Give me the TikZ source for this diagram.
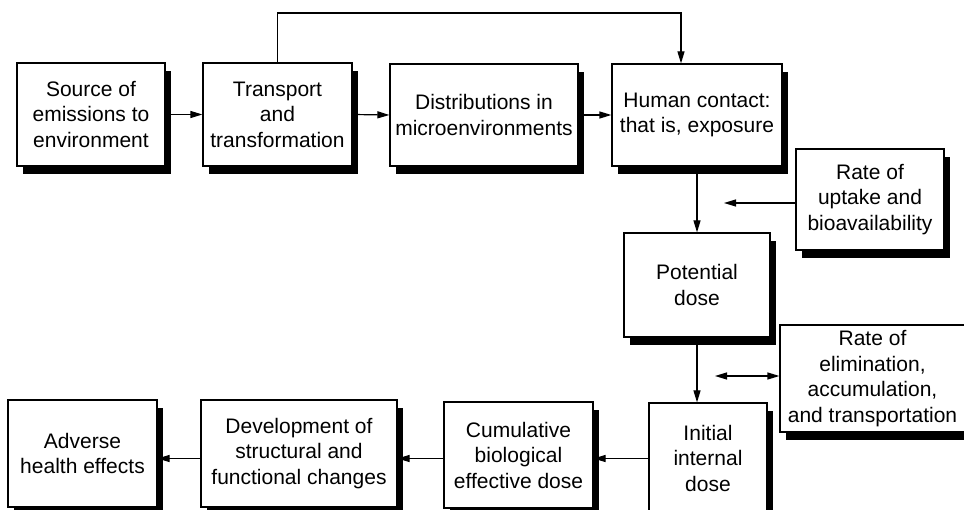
\documentclass[tikz,border=0pt]{standalone}
\usepackage{fontspec}
\setmainfont{Liberation Sans}
\usetikzlibrary{arrows.meta,shadows}
\begin{document}
\begin{tikzpicture}[x=1pt,y=-1pt,
  box/.style={draw=black, line width=1.2pt, fill=white, inner sep=0pt, align=center,
    font=\fontsize{21}{25.5}\selectfont,
    drop shadow={shadow xshift=5.5pt, shadow yshift=-8pt, fill=black, opacity=1}},
  link/.style={line width=1.2pt},
  tip/.style={Triangle[length=12pt,width=7pt]},
  arr/.style={link, -{Triangle[length=12pt,width=7pt]}},
  arrboth/.style={link, {Triangle[length=12pt,width=7pt]}-{Triangle[length=12pt,width=7pt]}}]
\useasboundingbox (0,0) rectangle (964,510);

% upper row: from source to exposure
\node[box, minimum width=148pt, minimum height=103pt] (src) at (91,114.5) {Source of\\emissions to\\environment};
\node[box, minimum width=149pt, minimum height=103pt] (trans) at (277.5,114.5) {Transport\\and\\transformation};
\node[box, minimum width=188pt, minimum height=102pt] (dist) at (484,115) {Distributions in\\microenvironments};
\node[box, minimum width=170pt, minimum height=102pt] (human) at (697,115) {Human contact:\\that is, exposure};

% right-hand column
\node[box, minimum width=148pt, minimum height=101pt] (uptake) at (870,199.5) {Rate of\\uptake and\\bioavailability};
\node[box, minimum width=146pt, minimum height=104pt] (pot) at (697,285) {Potential\\dose};
\node[box, minimum width=185pt, minimum height=107pt] (elim) at (872.5,378.5) {Rate of\\elimination,\\accumulation,\\and transportation};
\node[box, minimum width=118pt, minimum height=110pt] (init) at (708,458) {Initial\\internal\\dose};

% lower row: towards health effects
\node[box, minimum width=149pt, minimum height=106pt] (cum) at (518.5,455) {Cumulative\\biological\\effective dose};
\node[box, minimum width=196pt, minimum height=107pt] (dev) at (299,453.5) {Development of\\structural and\\functional changes};
\node[box, minimum width=149pt, minimum height=107pt] (adv) at (82.5,453.5) {Adverse\\health effects};

% connectors
\coordinate (top) at (681,13);
\coordinate (uptip) at (724,203);
\coordinate (elimtip) at (715,376);
\coordinate (lowrow) at (0,458.5);

\draw[arr] (src.east) -- (trans.west);
\draw[arr] (trans.east) -- (dist.west);
\draw[arr] (dist.east) -- (human.west);
\draw[arr] (trans.north) |- (top) -- (top |- human.north);
\draw[arr] (human.south) -- (pot.north);
\draw[arr] (uptake.west |- uptip) -- (uptip);
\draw[arr] (pot.south) -- (pot.south |- init.north);
\draw[arrboth] (elimtip) -- (elimtip -| elim.west);
\draw[arr] (init.west |- lowrow) -- (cum.east |- lowrow);
\draw[arr] (cum.west |- lowrow) -- (dev.east |- lowrow);
\draw[arr] (dev.west |- lowrow) -- (adv.east |- lowrow);
\end{tikzpicture}
\end{document}
